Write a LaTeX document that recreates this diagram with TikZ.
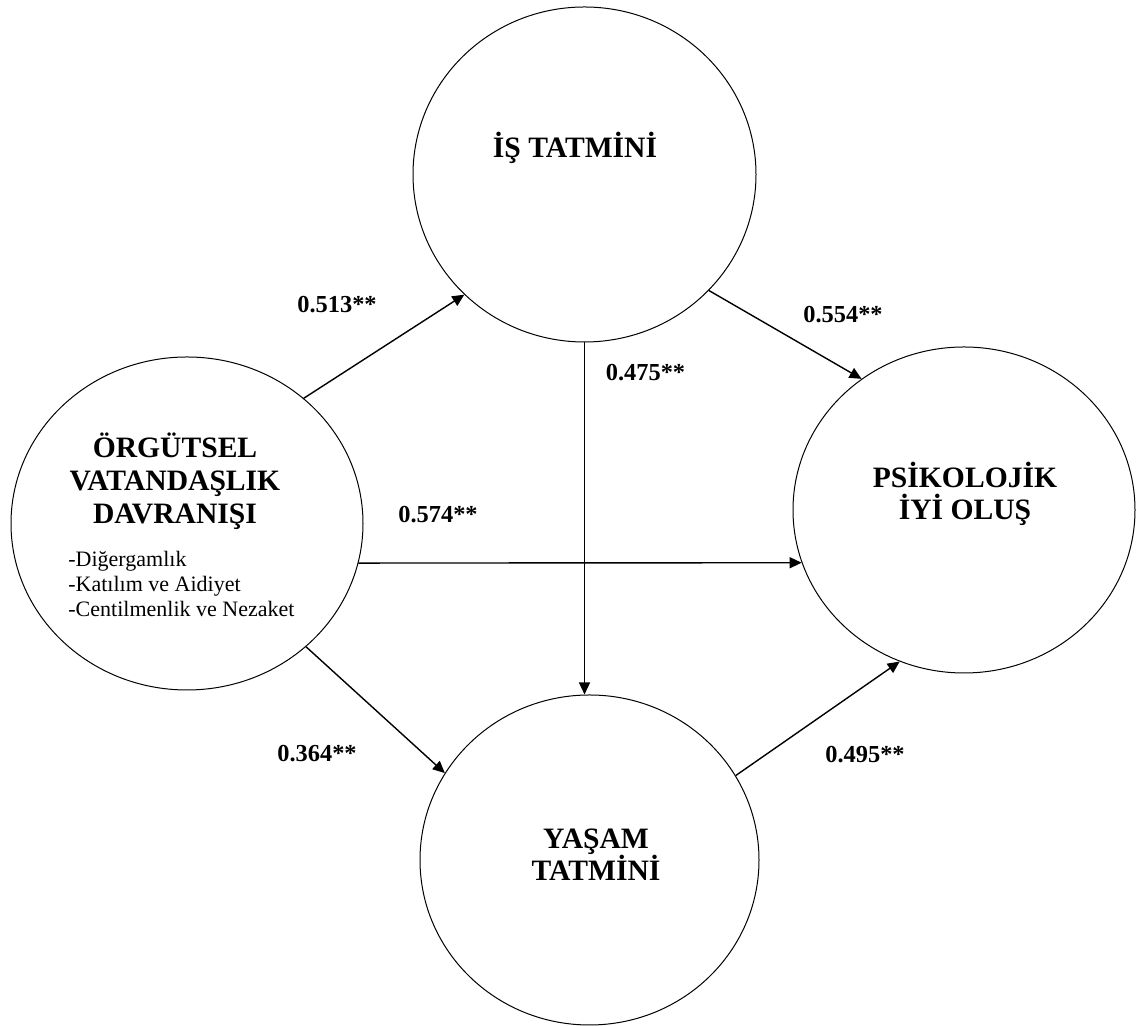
\documentclass[tikz,border=0pt]{standalone}
\usepackage{fontspec}
\setmainfont{Liberation Serif}
\usetikzlibrary{arrows.meta,shapes.geometric}
\tikzstyle{varstyle}=[draw=black,ellipse,line width=0.5pt,inner sep=0pt]
\tikzstyle{titlestyle}=[align=center,inner sep=0pt,font=\bfseries\fontsize{14.8}{16}\selectfont]
\tikzstyle{itemstyle}=[align=left,inner sep=0pt,font=\fontsize{11}{12.5}\selectfont]
\tikzstyle{coefstyle}=[inner sep=0pt,font=\bfseries\fontsize{12.2}{14}\selectfont]
\tikzstyle{pathstyle}=[line width=0.7pt,-{Triangle[length=6pt,width=5.5pt]}]

\begin{document}
\begin{tikzpicture}[x=0.5pt,y=0.5pt]

      % one unit is one pixel of the original figure
      \useasboundingbox (0,0) rectangle (1136,1026);

      % Draw the four variables
      \node[varstyle,minimum width=176pt,minimum height=166.5pt] at (187,502.5) (ovd) {};
      \node[varstyle,minimum width=171.5pt,minimum height=167.5pt] at (584.5,851.5) (ist) {};
      \node[varstyle,minimum width=171pt,minimum height=163pt] at (964,516) (pio) {};
      \node[varstyle,minimum width=169.5pt,minimum height=165pt] at (589.5,166) (yst) {};

      % texts inside the variables (base = baseline of the last line)
      \node[titlestyle,anchor=base,font=\bfseries\fontsize{14.8}{16.5}\selectfont] at (175,502.7) (ovdtext) {ÖRGÜTSEL\\VATANDAŞLIK\\DAVRANIŞI};
      \node[itemstyle,anchor=base west] at (68,409.3) (ovdsub) {-Diğergamlık\\-Katılım ve Aidiyet\\-Centilmenlik ve Nezaket};
      \node[titlestyle,anchor=base] at (575,868) (isttext) {İŞ TATMİNİ};
      \node[titlestyle,anchor=base] at (965,506) (piotext) {PSİKOLOJİK\\İYİ OLUŞ};
      \node[titlestyle,anchor=base] at (596,145.3) (ysttext) {YAŞAM\\TATMİNİ};

      % Draw all paths
      \draw[pathstyle] (ovd.47.5) -- (ist.225.7);
      \draw[pathstyle] (ist.-43.1) -- (pio.128);
      \draw[pathstyle] (ist.south) -- (ist.south |- yst.north);
      \draw[pathstyle] (ovd.-13.6) -- (pio.198.2);
      \draw[pathstyle] (ovd.-46.6) -- (yst.149.2);
      \draw[pathstyle] (yst.30.9) -- (pio.247.8);

      % Insert coefficients
      \node[coefstyle,anchor=base] at (337,713) (c1) {0.513**};
      \node[coefstyle,anchor=base] at (843,703) (c2) {0.554**};
      \node[coefstyle,anchor=base] at (645.5,645) (c3) {0.475**};
      \node[coefstyle,anchor=base] at (438,503) (c4) {0.574**};
      \node[coefstyle,anchor=base] at (317,264) (c5) {0.364**};
      \node[coefstyle,anchor=base] at (865,263) (c6) {0.495**};

\end{tikzpicture}
\end{document}
